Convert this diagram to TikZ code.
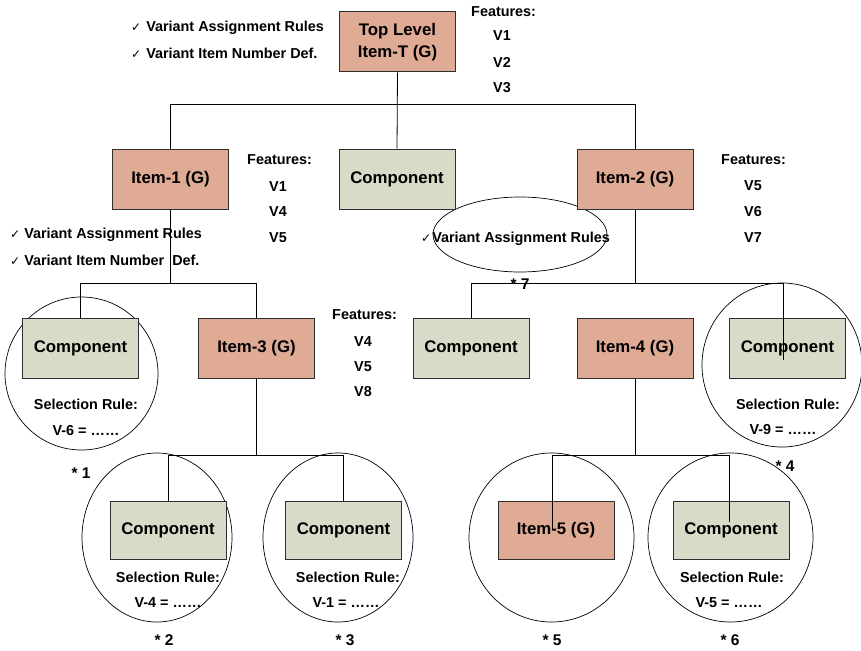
\documentclass[tikz,border=0pt]{standalone}
\usepackage{fontspec}
\setmainfont{Liberation Sans}
\newfontfamily\symfont{DejaVu Sans}
\usetikzlibrary{shapes.geometric}
\definecolor{itemfill}{HTML}{DFAB95}
\definecolor{compfill}{HTML}{D9DBC9}
\definecolor{edgecol}{HTML}{2E2E2E}
\newcommand{\chk}{{\symfont\fontsize{12}{14}\selectfont ✓}}
\begin{document}
\begin{tikzpicture}[x=1pt,y=-1pt,
  box/.style={draw=edgecol, line width=1pt, minimum width=116pt, minimum height=60pt, inner sep=0pt,
    font=\fontsize{16.8}{22}\selectfont\bfseries, align=center},
  itembox/.style={box, fill=itemfill},
  compbox/.style={box, fill=compfill},
  lowbox/.style={minimum height=58pt},
  lbl/.style={font=\fontsize{14.4}{16}\selectfont\bfseries, inner sep=0pt},
  starlbl/.style={font=\fontsize{15.5}{17}\selectfont\bfseries, inner sep=0pt},
  conn/.style={draw=black, line width=0.8pt},
  ring/.style={draw=black, line width=0.7pt, ellipse, inner sep=0pt}
]
\useasboundingbox[fill=white] (0,0) rectangle (861,650);

% rings (drawn first)
\node[ring, minimum width=153pt, minimum height=153pt] (r1) at (81.5,373.5) {};
\node[ring, minimum width=160pt, minimum height=164pt] (r4) at (782,365) {};
\node[ring, minimum width=150pt, minimum height=169pt] (r2) at (157,537.5) {};
\node[ring, minimum width=150pt, minimum height=169pt] (r3) at (338,537.5) {};
\node[ring, minimum width=165pt, minimum height=169pt] (r5) at (551.5,537.5) {};
\node[ring, minimum width=165pt, minimum height=169pt] (r6) at (730.5,537.5) {};
\node[ring, minimum width=174pt, minimum height=75pt] (r7) at (520,234.5) {};

% boxes
\node[itembox] (top) at (397.5,42) {Top Level\\Item-T (G)};
\node[itembox] (i1) at (170.5,179) {Item-1 (G)};
\node[compbox] (c0) at (397,179) {Component};
\node[itembox] (i2) at (635,179) {Item-2 (G)};
\node[compbox] (cL) at (80.5,348) {Component};
\node[itembox] (i3) at (256.5,348) {Item-3 (G)};
\node[compbox] (cM) at (471,348) {Component};
\node[itembox] (i4) at (635,348) {Item-4 (G)};
\node[compbox] (cR) at (787.5,348) {Component};
\node[compbox, lowbox] (cB1) at (168,530) {Component};
\node[compbox, lowbox] (cB2) at (343.5,530) {Component};
\node[itembox, lowbox] (i5) at (556,530) {Item-5 (G)};
\node[compbox, lowbox] (cB3) at (731,530) {Component};

% connector helpers
\coordinate (bT) at (0,104);
\coordinate (bL) at (0,283);
\coordinate (bB) at (0,455);
\coordinate (rIn) at (783,360);
\coordinate (i5In) at (552,529);
\coordinate (cB3In) at (729,522);

% connectors
\draw[conn] (top.south) -- (c0.north);
\draw[conn] (i1.north) -- (i1.north |- bT) -| (i2.north);
\draw[conn] (i1.south) -- (i1.south |- bL);
\draw[conn] (cL.north) |- (i3.north |- bL) -- (i3.north);
\draw[conn] (i2.south) -- (i2.south |- bL);
\draw[conn] (cM.north) |- (rIn |- bL) -- (rIn);
\draw[conn] (i3.south) -- (i3.south |- bB);
\draw[conn] (cB1.north) |- (cB2.north |- bB) -- (cB2.north);
\draw[conn] (i4.south) -- (i4.south |- bB);
\draw[conn] (i5In) |- (cB3In |- bB) -- (cB3In);

% check lists
\node[lbl, anchor=west] (tA) at (131,28) {\chk\hspace{5pt}Variant Assignment Rules};
\node[lbl, anchor=west] (tB) at (131,53) {\chk\hspace{5pt}Variant Item Number Def.};
\node[lbl, anchor=west] (lA) at (10,235) {\chk\hspace{4pt}Variant Assignment Rules};
\node[lbl, anchor=west] (lB) at (10,260) {\chk\hspace{4pt}Variant Item Number\hspace{8pt}Def.};
\node[lbl, anchor=west] (mA) at (421,239) {\chk\hspace{1pt}Variant Assignment Rules};

% features
\node[lbl, anchor=west] (fT) at (471,12) {Features:};
\node[lbl] (fT1) at (502,36) {V1};
\node[lbl] (fT2) at (502,62) {V2};
\node[lbl] (fT3) at (502,88) {V3};
\node[lbl, anchor=west] (f1) at (247,160) {Features:};
\node[lbl] (f11) at (278,187) {V1};
\node[lbl] (f12) at (278,212) {V4};
\node[lbl] (f13) at (278,238) {V5};
\node[lbl, anchor=west] (f2) at (721,160) {Features:};
\node[lbl] (f21) at (753,186) {V5};
\node[lbl] (f22) at (753,212) {V6};
\node[lbl] (f23) at (753,238) {V7};
\node[lbl, anchor=west] (f3) at (332,315) {Features:};
\node[lbl] (f31) at (363,342) {V4};
\node[lbl] (f32) at (363,367) {V5};
\node[lbl] (f33) at (363,392) {V8};

% selection rules
\node[lbl] (sL) at (86,404) {Selection Rule:};
\node[lbl] (sLv) at (86,431) {V-6 = ……};
\node[lbl] (sR) at (788,404) {Selection Rule:};
\node[lbl] (sRv) at (783,430) {V-9 = ……};
\node[lbl] (s1) at (168,577) {Selection Rule:};
\node[lbl] (s1v) at (168,603) {V-4 = ……};
\node[lbl] (s2) at (348,577) {Selection Rule:};
\node[lbl] (s2v) at (346,603) {V-1 = ……};
\node[lbl] (s3) at (732,577) {Selection Rule:};
\node[lbl] (s3v) at (729,603) {V-5 = ……};

% star labels
\node[starlbl] (n1) at (81,473) {* 1};
\node[starlbl] (n2) at (164,640) {* 2};
\node[starlbl] (n3) at (345,640) {* 3};
\node[starlbl] (n4) at (785,466) {* 4};
\node[starlbl] (n5) at (552,640) {* 5};
\node[starlbl] (n6) at (730,640) {* 6};
\node[starlbl] (n7) at (520,284) {* 7};
\end{tikzpicture}
\end{document}
